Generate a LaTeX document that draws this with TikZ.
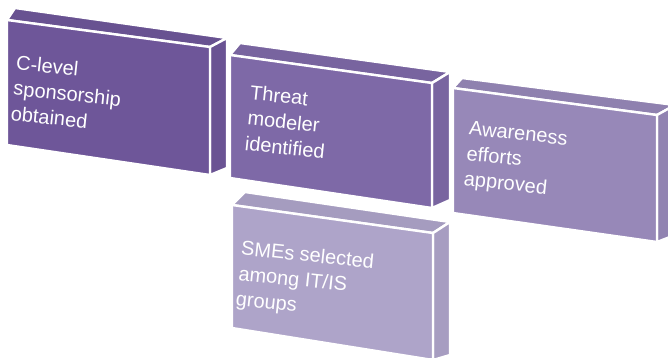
\documentclass[tikz,border=0pt]{standalone}
\usepackage{fontspec}
\setmainfont{Liberation Sans}
\usepackage{xcolor}
\usetikzlibrary{positioning}

\definecolor{slabone}{RGB}{110,86,153}
\definecolor{slabtwo}{RGB}{126,105,167}
\definecolor{slabthree}{RGB}{151,136,184}
\definecolor{slabfour}{RGB}{174,164,201}

\begin{document}
\begin{tikzpicture}[x=1pt,y=-1pt,
  face/.style={draw=white, line width=2.4pt, line join=round},
  slabtext/.style={text=white, font=\fontsize{20}{25.5}\selectfont, align=left,
                   anchor=north west, inner sep=0pt, rotate=-6}]

\clip (0,0) rectangle (668,357);

% colour; front corners tl, tr, br, bl; back corners tl, tr, br
\def\slab#1#2#3#4#5#6#7#8{
  \filldraw[face, fill=#1!95!black] (#2) -- (#6) -- (#7) -- (#3) -- cycle;
  \filldraw[face, fill=#1!96!black] (#3) -- (#7) -- (#8) -- (#4) -- cycle;
  \filldraw[face, fill=#1] (#2) -- (#3) -- (#4) -- (#5) -- cycle;
}

\slab{slabone}{7,20}{210,47}{210,175}{7,145}{15,8}{227,38}{227,168}
\slab{slabtwo}{230,55}{432,83}{432,208}{230,178}{240,43}{450,72}{450,200}
\slab{slabthree}{453,88}{657,115}{657,242}{453,213}{462,78}{675,105}{675,235}
\slab{slabfour}{232,205}{433,233}{433,360}{232,328}{245,192}{450,222}{450,355}

\node[slabtext] (sponsor) at (17,55) {C-level\\sponsorship\\obtained};
\node[slabtext] (modeler) at (251,85) {Threat\\modeler\\identified};
\node[slabtext] (aware) at (470,121) {Awareness\\efforts\\approved};
\node[slabtext] (smes) at (242,240) {SMEs selected\\among IT/IS\\groups};

\end{tikzpicture}
\end{document}
